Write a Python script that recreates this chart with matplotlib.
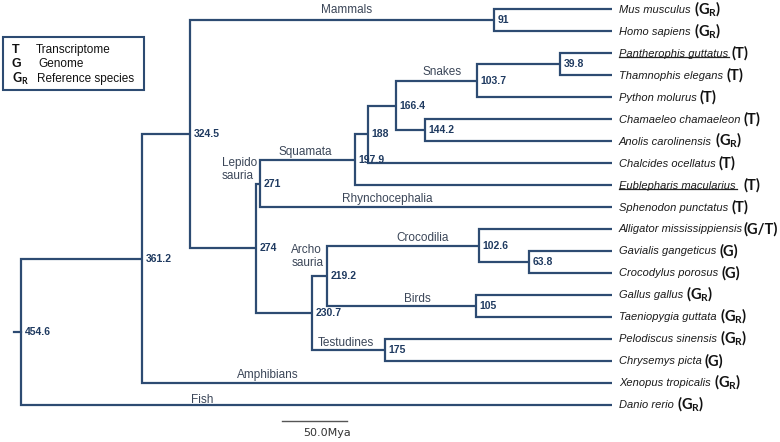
import matplotlib
matplotlib.use('Agg')
import matplotlib.pyplot as plt
from matplotlib.patches import Rectangle
from matplotlib.lines import Line2D

plt.rcParams['mathtext.fontset'] = 'custom'
plt.rcParams['mathtext.rm'] = 'Lato'
plt.rcParams['mathtext.bf'] = 'Lato:bold'

# tips, top to bottom
species = ['Mus musculus', 'Homo sapiens', 'Pantherophis guttatus', 'Thamnophis elegans',
           'Python molurus', 'Chamaeleo chamaeleon', 'Anolis carolinensis', 'Chalcides ocellatus',
           'Eublepharis macularius', 'Sphenodon punctatus', 'Alligator mississippiensis',
           'Gavialis gangeticus', 'Crocodylus porosus', 'Gallus gallus', 'Taeniopygia guttata',
           'Pelodiscus sinensis', 'Chrysemys picta', 'Xenopus tropicalis', 'Danio rerio']
data_type = ['GR', 'GR', 'T', 'T', 'T', 'T', 'GR', 'T', 'T', 'T', 'G/T', 'G', 'G',
             'GR', 'GR', 'GR', 'G', 'GR', 'GR']
underlined = ['Pantherophis guttatus', 'Eublepharis macularius']

# internal nodes (divergence time, Mya) and their two children
# ints are tip indices, strings are other nodes
node_labels = ['91', '39.8', '103.7', '144.2', '166.4', '188', '197.9', '271', '63.8',
               '102.6', '105', '219.2', '175', '230.7', '274', '324.5', '361.2', '454.6']
node_children = [(0, 1), (2, 3), ('39.8', 4), (5, 6), ('103.7', '144.2'), ('166.4', 7),
                 ('188', 8), ('197.9', 9), (11, 12), (10, '63.8'), (13, 14),
                 ('102.6', '105'), (15, 16), ('219.2', '175'), ('271', '230.7'),
                 ('91', '274'), ('324.5', 17), ('361.2', 18)]

# clade names written over a branch
clade_names = ['Mammals', 'Snakes', 'Squamata', 'Rhynchocephalia', 'Crocodilia', 'Birds',
               'Testudines', 'Amphibians', 'Fish']
clade_x = [-204, -131, -236, -173, -146, -150, -205, -265, -315]
clade_branch = ['91', '103.7', '197.9', 9, '102.6', '105', '175', 17, 18]
clade_dy = [3.5, 2, 1.5, 1.5, 1.5, 0.5, 1, 1.5, -0.5]

line_c = '#2d4b72'
num_c = '#1f3a60'
txt_c = '#3b4658'

fig = plt.figure(figsize=(7.8, 4.42), dpi=100)
ax = fig.add_axes([0, 0, 1, 1])
ax.axis('off')
ax.set_xlim(-470.77, 129.23)
ax.set_ylim(19.686, -0.432)

pos = {i: (0.0, float(i)) for i in range(len(species))}
for lab, ch in zip(node_labels, node_children):
    x = -float(lab)
    (x1, y1), (x2, y2) = pos[ch[0]], pos[ch[1]]
    ax.plot([x1, x, x, x2], [y1, y1, y2, y2], color=line_c, lw=1.6,
            solid_joinstyle='miter', solid_capstyle='butt')
    pos[lab] = (x, (y1 + y2) / 2)

rx, ry = pos['454.6']
ax.plot([rx - 5.4, rx], [ry, ry], color=line_c, lw=1.6)

for lab in node_labels:
    x, y = pos[lab]
    ax.annotate(lab, (x, y), xytext=(2.5, 0), textcoords='offset points',
                fontsize=7.5, fontweight='bold', family='Liberation Sans', color=num_c,
                ha='left', va='center')

for name, cx, br, dy in zip(clade_names, clade_x, clade_branch, clade_dy):
    ax.annotate(name, (cx, pos[br][1]), xytext=(0, dy), textcoords='offset points',
                fontsize=8.5, family='Liberation Sans', color=txt_c,
                ha='center', va='bottom')

ax.text(-273, 7.3, 'Lepido\nsauria', fontsize=8.5, family='Liberation Sans', color=txt_c,
        ha='right', va='center', multialignment='left', linespacing=1.1)
ax.text(-222, 11.25, 'Archo\nsauria', fontsize=8.5, family='Liberation Sans', color=txt_c,
        ha='right', va='center', multialignment='left', linespacing=1.1)

# species names
sp_texts = []
for i, name in enumerate(species):
    t = ax.text(5.4, i + 0.15, name, fontsize=8, style='italic', family='Liberation Sans',
                color='#1a1a1a', ha='left', va='baseline')
    sp_texts.append(t)

fig.canvas.draw()
rend = fig.canvas.get_renderer()
inv = ax.transData.inverted()
for i, (t, code) in enumerate(zip(sp_texts, data_type)):
    bb = t.get_window_extent(rend)
    gap = 3
    if species[i] == 'Eublepharis macularius':
        gap = 8
    if code == 'G/T':
        gap = 0.5
    x_end = inv.transform((bb.x1 + gap, bb.y0))[0]
    s = r'($\mathbf{G}_\mathbf{R}$)' if code == 'GR' else '(' + code + ')'
    ax.text(x_end, i + 0.2, s, fontsize=10.5, fontweight='bold', family='Lato',
            color='#111111', ha='left', va='baseline')
    if species[i] in underlined:
        yb = bb.y0 + 1.5
        fig.add_artist(Line2D([bb.x0 / 780, (bb.x1 + 1) / 780], [yb / 442, yb / 442],
                              color='#222222', lw=0.9))

# legend box
fig.add_artist(Rectangle((3 / 780, 1 - 90 / 442), 141 / 780, 53 / 442, fill=True,
                         facecolor='white', edgecolor=line_c, lw=1.5))
leg_sym = ['T', 'G', r'$\mathbf{G}_\mathbf{R}$']
leg_txt = ['Transcriptome', 'Genome', 'Reference species']
leg_x = [36, 38, 37]
leg_y = [50, 64, 79]
for sym, txt, lx, ly in zip(leg_sym, leg_txt, leg_x, leg_y):
    fig.text(12 / 780, 1 - ly / 442, sym, fontsize=9, fontweight='bold',
             family='Liberation Sans', color='#111111', ha='left', va='center')
    fig.text(lx / 780, 1 - ly / 442, txt, fontsize=8.5, family='Liberation Sans',
             color='#111111', ha='left', va='center')

# scale bar
ax.plot([-254, -204], [18.73, 18.73], color='#555555', lw=1)
ax.text(-219, 19.28, '50.0Mya', fontsize=8, family='DejaVu Sans', color='#333333',
        ha='center', va='center')

fig.savefig('out.png', dpi=100)
